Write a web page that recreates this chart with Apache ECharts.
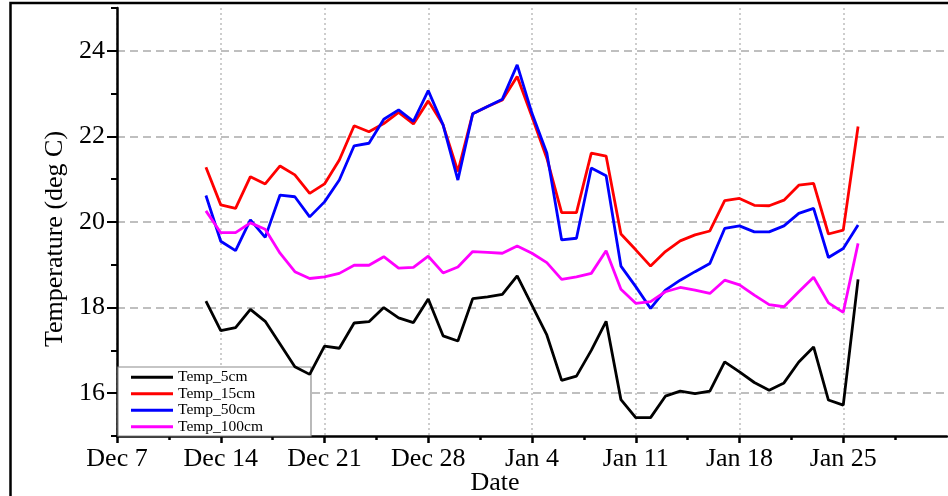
<!DOCTYPE html>
<html>
<head>
<meta charset="utf-8">
<script src="https://cdn.jsdelivr.net/npm/echarts@6/dist/echarts.min.js"></script>
<style>
  html, body { margin: 0; padding: 0; background: #fff; }
  #chart { width: 948px; height: 496px; }
</style>
</head>
<body>
<div id="chart"></div>
<script>
// Days counted from Dec 7 (day 0); one daily reading from Dec 13 to Jan 26
const dayOffset = [6, 7, 8, 9, 10, 11, 12, 13, 14, 15, 16, 17, 18, 19, 20,
  21, 22, 23, 24, 25, 26, 27, 28, 29, 30, 31, 32, 33, 34, 35,
  36, 37, 38, 39, 40, 41, 42, 43, 44, 45, 46, 47, 48, 49, 50];

// Soil temperature (deg C) at each depth
const temp5cm = [18.15, 17.46, 17.53, 17.96, 17.68, 17.15, 16.62, 16.44, 17.10, 17.05,
  17.64, 17.67, 18.00, 17.76, 17.65, 18.20, 17.34, 17.22, 18.21, 18.25,
  18.31, 18.74, 18.05, 17.36, 16.30, 16.40, 17.00, 17.68, 15.85, 15.43,
  15.43, 15.93, 16.05, 15.99, 16.05, 16.73, 16.50, 16.25, 16.07, 16.24,
  16.73, 17.08, 15.84, 15.72, 18.66];
const temp15cm = [21.28, 20.40, 20.32, 21.06, 20.89, 21.31, 21.10, 20.67, 20.89, 21.45,
  22.25, 22.11, 22.30, 22.56, 22.29, 22.83, 22.27, 21.18, 22.53, 22.70,
  22.85, 23.40, 22.46, 21.49, 20.22, 20.22, 21.61, 21.54, 19.72, 19.35,
  18.97, 19.31, 19.56, 19.70, 19.79, 20.50, 20.55, 20.39, 20.38, 20.51,
  20.86, 20.90, 19.72, 19.81, 22.23];
const temp50cm = [20.62, 19.55, 19.33, 20.05, 19.64, 20.63, 20.59, 20.12, 20.47, 20.98,
  21.78, 21.84, 22.40, 22.62, 22.35, 23.07, 22.27, 20.98, 22.53, 22.70,
  22.87, 23.67, 22.54, 21.61, 19.58, 19.62, 21.26, 21.08, 18.97, 18.49,
  17.98, 18.41, 18.64, 18.84, 19.03, 19.85, 19.91, 19.77, 19.77, 19.91,
  20.20, 20.32, 19.17, 19.38, 19.93];
const temp100cm = [20.26, 19.75, 19.75, 19.98, 19.83, 19.27, 18.84, 18.68, 18.72, 18.80,
  18.99, 18.99, 19.19, 18.92, 18.94, 19.20, 18.81, 18.95, 19.31, 19.29,
  19.27, 19.44, 19.27, 19.05, 18.66, 18.72, 18.80, 19.33, 18.43, 18.10,
  18.14, 18.37, 18.47, 18.41, 18.33, 18.64, 18.53, 18.29, 18.07, 18.02,
  18.37, 18.71, 18.11, 17.89, 19.50];

// Weekly date ticks on the x axis
const tickDays = [0, 7, 14, 21, 28, 35, 42, 49];
const tickLabels = ['Dec 7', 'Dec 14', 'Dec 21', 'Dec 28', 'Jan 4', 'Jan 11', 'Jan 18', 'Jan 25'];

// Temperature ticks: labelled even values, short unlabelled odd ones
const yMajorTicks = [16, 18, 20, 22, 24];
const yMinorTicks = [15, 17, 19, 21, 23, 25];

const seriesNames = ['Temp_5cm', 'Temp_15cm', 'Temp_50cm', 'Temp_100cm'];
const seriesColors = ['#000000', '#ff0000', '#0000ff', '#ff00ff'];
const seriesValues = [temp5cm, temp15cm, temp50cm, temp100cm];

const FONT = '"Liberation Serif", "DejaVu Serif", serif';

const chart = echarts.init(document.getElementById('chart'), null, { renderer: 'canvas' });

chart.setOption({
  animation: false,
  backgroundColor: '#ffffff',
  grid: { left: 117, right: 1, top: 8, bottom: 60, containLabel: false, outerBoundsMode: 'none' },
  legend: {
    orient: 'vertical',
    left: 131,
    top: 369,
    padding: 0,
    itemGap: 0,
    itemWidth: 42,
    itemHeight: 3,
    icon: 'rect',
    textStyle: { fontFamily: FONT, fontSize: 15.5, lineHeight: 16.5, color: '#000' },
    data: seriesNames
  },
  xAxis: {
    type: 'value',
    min: 0,
    max: 56,
    interval: 7,
    name: 'Date',
    nameLocation: 'middle',
    nameGap: 34,
    nameMoveOverlap: false,
    nameTextStyle: { fontFamily: FONT, fontSize: 26, color: '#000', padding: [0, 74, 0, 0] },
    axisLine: { show: true, onZero: false, lineStyle: { color: '#000', width: 2.5 } },
    axisTick: { show: true, inside: false, length: 7, customValues: tickDays, lineStyle: { color: '#000', width: 2.5 } },
    minorTick: { show: true, splitNumber: 2, length: 4, lineStyle: { color: '#000', width: 2.5 } },
    axisLabel: {
      customValues: tickDays,
      margin: 10,
      fontFamily: FONT,
      fontSize: 26,
      color: '#000',
      formatter: v => {
        const i = tickDays.indexOf(v);
        return i >= 0 ? tickLabels[i] : '';
      }
    },
    splitLine: { show: true, lineStyle: { color: '#bdbdbd', width: 1.5, type: [2, 3] } }
  },
  yAxis: [
    {
      type: 'value',
      min: 15,
      max: 25,
      interval: 1,
      name: 'Temperature (deg C)',
      nameLocation: 'middle',
      nameGap: 49,
      nameMoveOverlap: false,
      nameTextStyle: { fontFamily: FONT, fontSize: 26, color: '#000', padding: [0, 34, 0, 0] },
      axisLine: { show: true, onZero: false, lineStyle: { color: '#000', width: 2.5 } },
      axisTick: { show: true, length: 10, customValues: yMajorTicks, lineStyle: { color: '#000', width: 2 } },
      axisLabel: { customValues: yMajorTicks, margin: 12, fontFamily: FONT, fontSize: 26, color: '#000' },
      splitLine: { show: true, lineStyle: { color: '#aaaaaa', width: 1.5, type: [8, 5] } }
    },
    {
      type: 'value',
      min: 15,
      max: 25,
      interval: 1,
      position: 'left',
      axisLine: { show: false },
      axisTick: { show: true, length: 6, customValues: yMinorTicks, lineStyle: { color: '#000', width: 2 } },
      axisLabel: { show: false },
      splitLine: { show: false }
    }
  ],
  graphic: [
    {
      // white legend panel sitting over the grid lines, under the curves
      type: 'rect',
      z: 1,
      silent: true,
      shape: { x: 118, y: 367, width: 193, height: 69 },
      style: { fill: '#ffffff', stroke: '#8c8c8c', lineWidth: 1.2 }
    },
    {
      // figure frame
      type: 'rect',
      z: 10,
      silent: true,
      shape: { x: 10.5, y: 3, width: 1000, height: 1000 },
      style: { fill: 'none', stroke: '#000', lineWidth: 2.5 }
    }
  ],
  series: seriesNames.map((name, k) => ({
    name,
    type: 'line',
    xAxisIndex: 0,
    yAxisIndex: 0,
    z: 2 + k,
    showSymbol: false,
    symbol: 'none',
    color: seriesColors[k],
    lineStyle: { color: seriesColors[k], width: 2.8 },
    data: dayOffset.map((d, i) => [d, seriesValues[k][i]])
  }))
});
</script>
</body>
</html>
